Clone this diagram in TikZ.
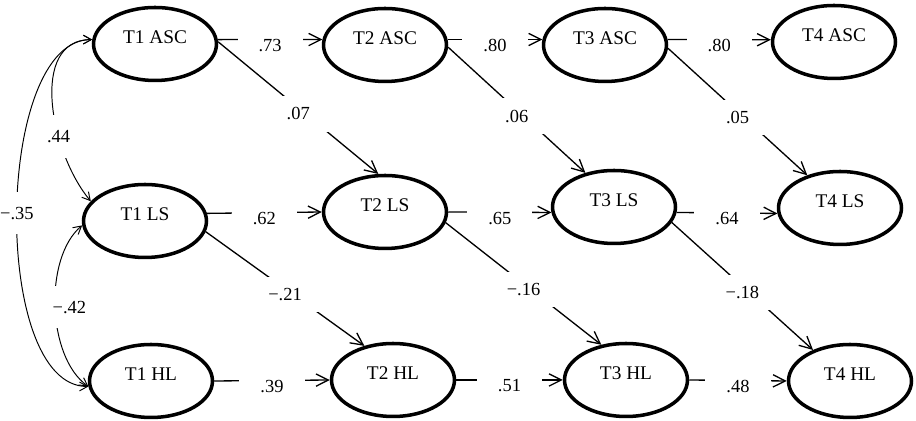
\documentclass[tikz,border=0pt]{standalone}
\usepackage{fontspec}
\setmainfont{Liberation Serif}
\usetikzlibrary{arrows.meta,shapes.geometric}

\begin{document}
\begin{tikzpicture}[->,>={Straight Barb[length=7pt,width=7pt]},line width=0.75pt,x=0.02cm,y=0.02cm,font=\fontsize{10.5}{12}\selectfont]
    \tikzstyle{lat}=[draw=black, ellipse, line width=2pt, minimum width=2.46cm, minimum height=1.46cm, inner sep=0pt, text height=7pt, text depth=7pt, font=\fontsize{11}{12}\selectfont]
    \tikzstyle{coef}=[fill=white, inner xsep=12pt, inner ysep=6.5pt, yshift=-3.4pt]
    \tikzstyle{cov}=[<->, >={Straight Barb[length=4.5pt,width=5pt]}, line width=0.55pt]
    \tikzstyle{clab}=[fill=white, inner xsep=1pt, inner ysep=8.5pt]

    \useasboundingbox (0,0) rectangle (916,421);

    \node[lat] (asc1) at (155,377) {T1 ASC};
    \node[lat] (asc2) at (385,376) {T2 ASC};
    \node[lat] (asc3) at (605,376) {T3 ASC};
    \node[lat] (asc4) at (834,379) {T4 ASC};
    \node[lat] (ls1)  at (145,200) {T1 LS};
    \node[lat] (ls2)  at (385,209) {T2 LS};
    \node[lat] (ls3)  at (614,214) {T3 LS};
    \node[lat] (ls4)  at (840,213) {T4 LS};
    \node[lat] (hl1)  at (151,40)  {T1 HL};
    \node[lat] (hl2)  at (393,41)  {T2 HL};
    \node[lat] (hl3)  at (626,41)  {T3 HL};
    \node[lat] (hl4)  at (850,40)  {T4 HL};

    % stability paths
    \path
     (asc1.4)  edge node[coef] {.73} (asc2.175)
     (asc2.5)  edge node[coef] {.80} (asc3.175)
     (asc3.5)  edge node[coef] {.80} (asc4.178)
     (ls1.7)   edge node[coef] {.62} (ls2.west)
     (ls2.east) edge node[coef] {.65} (ls3.185)
     (ls3.-5)  edge node[coef] {.64} (ls4.185)
     (hl1.east) edge node[coef] {.39} (hl2.west)
     (hl2.east) edge node[coef] {.51} (hl3.west)
     (hl3.east) edge node[coef] {.48} (hl4.west)
     ;
    % cross-lagged paths
    \path
     (asc1.2)  edge node[coef] {.07} (ls2.100)
     (asc2.-2) edge node[coef] {.06} (ls3.130)
     (asc3.-3) edge node[coef] {.05} (ls4.135)
     (ls1.-10) edge node[coef] {−.21} (hl2.130)
     (ls2.-10) edge node[coef] {−.16} (hl3.125)
     (ls3.-15) edge node[coef] {−.18} (hl4.140)
     ;
    % correlations at T1
    \path
     (asc1.176) edge[cov, out=180, in=130] node[clab, pos=0.66] {.44} (ls1.160)
     (asc1.176) edge[cov, out=180, in=180, looseness=0.72] node[clab] {−.35} (hl1.185)
     (ls1.184)  edge[cov, out=220, in=145, looseness=0.8] node[clab, xshift=8pt] {−.42} (hl1.185)
     ;
\end{tikzpicture}
\end{document}
